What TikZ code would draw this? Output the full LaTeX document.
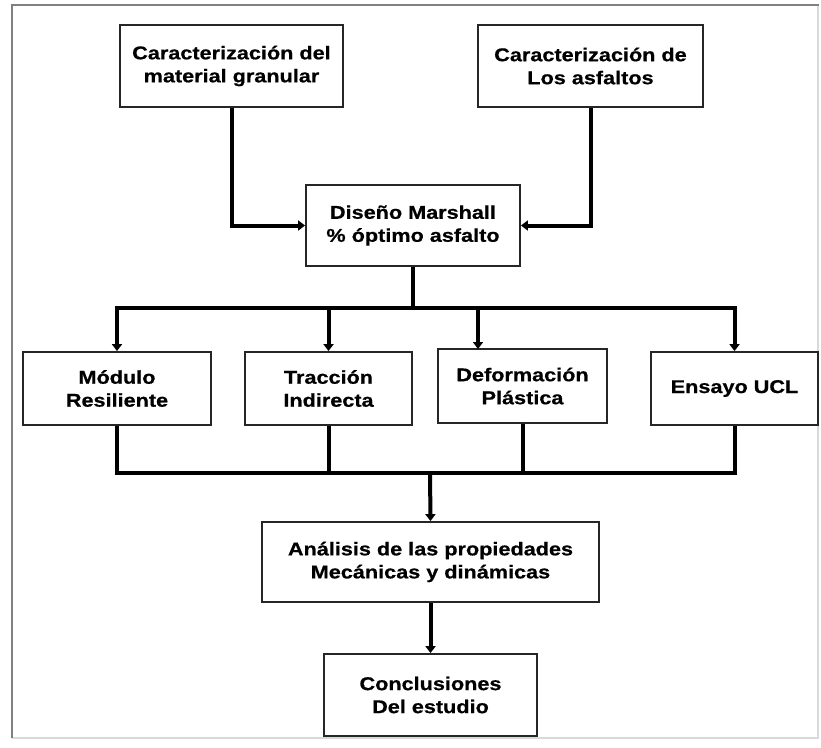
\documentclass[tikz,border=0pt]{standalone}
\usepackage{fontspec}
\setmainfont{Liberation Sans}
\newfontfamily\boxfont[FakeStretch=1.17,FakeBold=0.6]{Liberation Sans}
\usetikzlibrary{arrows.meta}
\tikzset{
  box/.style={draw=black!85, line width=1.8pt, fill=white, inner sep=0pt,
    align=center, font=\boxfont\bfseries\fontsize{18.5}{23}\selectfont, text=black},
  conn/.style={line width=4pt, draw=black, line join=miter},
  arr/.style={conn, -{Triangle[width=10pt,length=7pt]}},
}
\begin{document}
\begin{tikzpicture}[x=1pt,y=-1pt]
\useasboundingbox (0,0) rectangle (821,747);
% frame
\draw[draw=black!15, line width=1.2pt] (818,5) -- (818,738) -- (12,738);
\draw[draw=black!50, line width=2.5pt] (12,738) -- (12,5) -- (819,5);
% nodes
\node[box, minimum width=223pt, minimum height=82pt] (car1) at (231.5,66) {Caracterización del\\material granular};
\node[box, minimum width=225pt, minimum height=82pt] (car2) at (590.5,66) {Caracterización de\\Los asfaltos};
\node[box, minimum width=214pt, minimum height=81pt] (dis) at (413,225.5) {Diseño Marshall\\\% óptimo asfalto};
\node[box, minimum width=188pt, minimum height=73pt] (mod) at (117,388.5) {Módulo\\Resiliente};
\node[box, minimum width=167pt, minimum height=73pt] (tra) at (328.5,388.5) {Tracción\\Indirecta};
\node[box, minimum width=169pt, minimum height=74pt] (def) at (522.5,386) {Deformación\\Plástica};
\node[box, minimum width=167pt, minimum height=73pt] (ens) at (734.5,388.5) {Ensayo UCL};
\node[box, minimum width=337pt, minimum height=80pt] (ana) at (430.5,562) {Análisis de las propiedades\\Mecánicas y dinámicas};
\node[box, minimum width=213pt, minimum height=82pt] (con) at (430.5,695) {Conclusiones\\Del estudio};
% helper coordinates
\coordinate (bus1) at (413,308);
\coordinate (bus2) at (430,473);
\coordinate (defin) at (478,349);
% connectors
\draw[arr] (car1.south) |- (dis.west);
\draw[arr] (car2.south) |- (dis.east);
\draw[conn] (dis.south) -- (bus1);
\draw[conn] (mod.north |- bus1) -- (ens.north |- bus1);
\draw[arr] (bus1) -| (mod.north);
\draw[arr] (bus1) -| (tra.north);
\draw[arr] (bus1) -| (defin);
\draw[arr] (bus1) -| (ens.north);
\draw[conn] (mod.south) |- (bus2);
\draw[conn] (tra.south) |- (bus2);
\draw[conn] (def.south) |- (bus2);
\draw[conn] (ens.south) |- (bus2);
\draw[arr] (bus2) -- (ana.north);
\draw[arr] (ana.south) -- (con.north);
\end{tikzpicture}
\end{document}
